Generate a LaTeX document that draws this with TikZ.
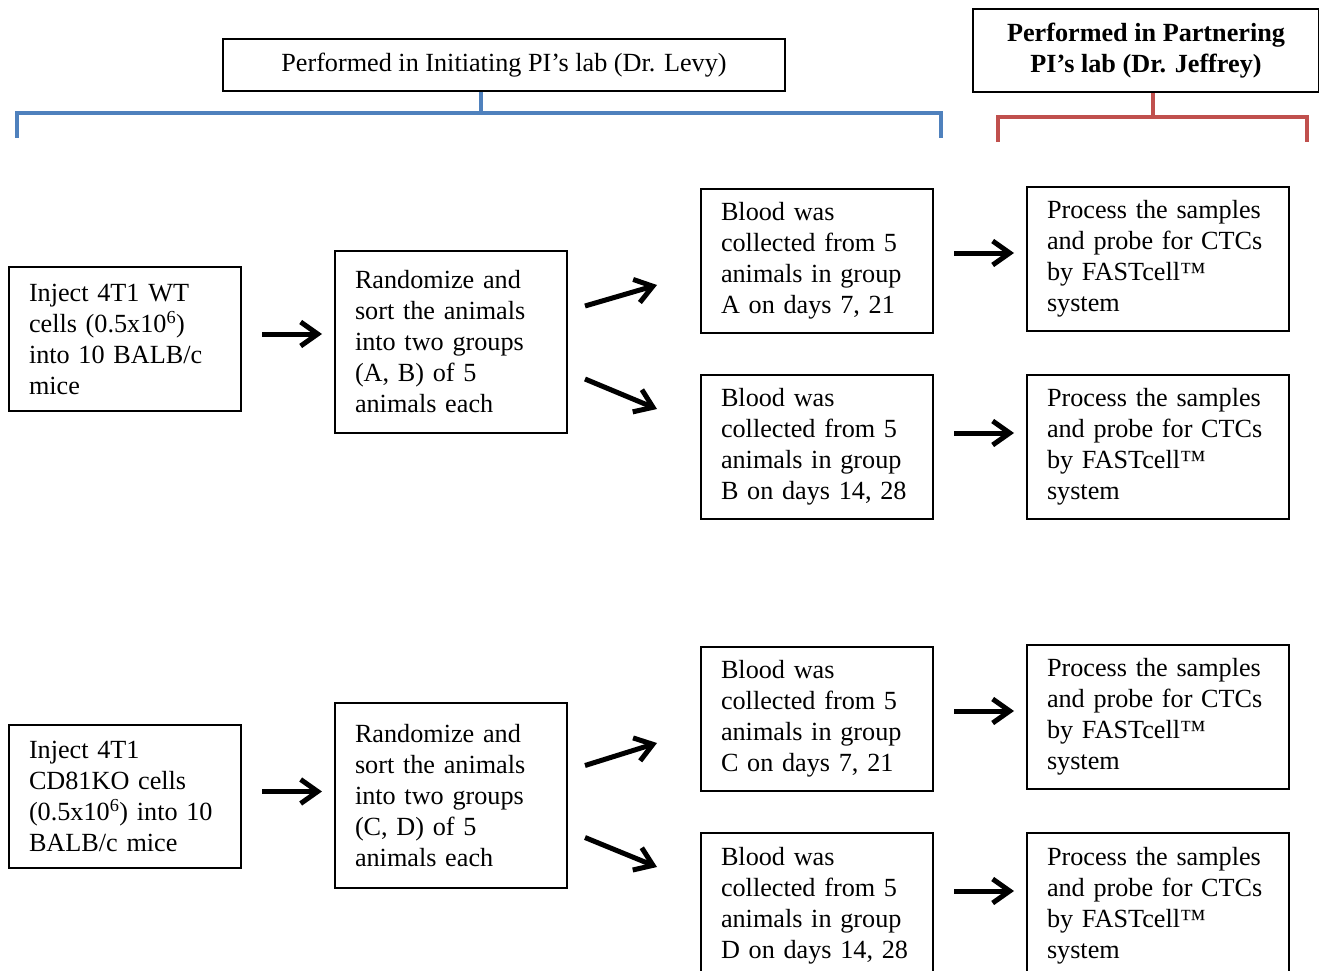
\documentclass[tikz,border=0pt]{standalone}
\usepackage{fontspec}
\setmainfont{Liberation Serif}
\usetikzlibrary{arrows.meta,calc}
\definecolor{bracketblue}{RGB}{79,129,189}
\definecolor{bracketred}{RGB}{192,80,77}
\tikzset{
  txt/.style={font=\fontsize{26.2}{31}\selectfont},
  boxA/.style={txt, draw, line width=2pt, anchor=north west, align=left,
    text width=192pt, inner xsep=20pt, inner ysep=0pt, minimum width=232pt},
  boxB/.style={boxA, text width=222pt, minimum width=262pt},
  arr/.style={line width=5pt, -{Straight Barb[length=17pt,width=24pt,line width=5pt]}},
  bline/.style={draw=bracketblue, line width=4pt},
  rline/.style={draw=bracketred, line width=4pt}
}
\begin{document}
\begin{tikzpicture}[x=1pt,y=-1pt]
\clip (0,0) rectangle (1319,971);
\fill[white] (0,0) rectangle (1319,971);

% header labels
\node[txt, draw, line width=2pt, minimum width=562pt, minimum height=52pt, anchor=north west, inner sep=0pt] (lab1) at (222,38) {Performed in Initiating PI’s lab (Dr. Levy)};
\node[txt, draw, line width=2pt, minimum width=346pt, minimum height=83pt, anchor=north west, inner sep=0pt, align=center, font=\fontsize{26.2}{31}\selectfont\bfseries] (lab2) at (972,8) {Performed in Partnering\\PI’s lab (Dr. Jeffrey)};

% brackets
\coordinate (bstem) at (481,113);
\coordinate (bl) at (17,138);
\coordinate (br) at (941,138);
\draw[bline] (lab1.south -| bstem) -- (bstem);
\draw[bline] (bl) -- (bl |- bstem) -- (br |- bstem) -- (br);
\coordinate (rstem) at (1153,117);
\coordinate (rl) at (998,142);
\coordinate (rr) at (1307,142);
\draw[rline] (lab2.south -| rstem) -- (rstem);
\draw[rline] (rl) -- (rl |- rstem) -- (rr |- rstem) -- (rr);

% top row
\node[boxA, minimum height=144pt] (inj1) at (8,266) {Inject 4T1 WT\\cells (0.5x10\textsuperscript{6})\\into 10 BALB/c\\mice};
\node[boxA, minimum height=182pt] (rnd1) at (334,250) {Randomize and\\sort the animals\\into two groups\\(A, B) of 5\\animals each};
\node[boxA, minimum height=144pt] (bldA) at (700,188) {Blood was\\collected from 5\\animals in group\\A on days 7, 21};
\node[boxB, minimum height=144pt] (prcA) at (1026,186) {Process the samples\\and probe for CTCs\\by FASTcell™\\system};
\node[boxA, minimum height=144pt] (bldB) at (700,374) {Blood was\\collected from 5\\animals in group\\B on days 14, 28};
\node[boxB, minimum height=144pt] (prcB) at (1026,374) {Process the samples\\and probe for CTCs\\by FASTcell™\\system};

% bottom row
\node[boxA, minimum height=143pt] (inj2) at (8,724) {Inject 4T1\\CD81KO cells\\(0.5x10\textsuperscript{6}) into 10\\BALB/c mice};
\node[boxA, minimum height=185pt] (rnd2) at (334,702) {Randomize and\\sort the animals\\into two groups\\(C, D) of 5\\animals each};
\node[boxA, minimum height=144pt] (bldC) at (700,646) {Blood was\\collected from 5\\animals in group\\C on days 7, 21};
\node[boxB, minimum height=144pt] (prcC) at (1026,644) {Process the samples\\and probe for CTCs\\by FASTcell™\\system};
\node[boxA, minimum height=146pt] (bldD) at (700,832) {Blood was\\collected from 5\\animals in group\\D on days 14, 28};
\node[boxB, minimum height=146pt] (prcD) at (1026,832) {Process the samples\\and probe for CTCs\\by FASTcell™\\system};

% arrows top
\draw[arr] ([shift={(20,-5)}]inj1.east) -- ([shift={(-12,-8)}]rnd1.west);
\draw[arr] ([shift={(17,-36)}]rnd1.east) -- ([shift={(-43,24)}]bldA.west);
\draw[arr] ([shift={(17,37)}]rnd1.east) -- ([shift={(-43,-38)}]bldB.west);
\draw[arr] ([shift={(20,-8)}]bldA.east) -- ([shift={(-12,-6)}]prcA.west);
\draw[arr] ([shift={(20,-14)}]bldB.east) -- ([shift={(-12,-14)}]prcB.west);
% arrows bottom
\draw[arr] ([shift={(20,-5)}]inj2.east) -- ([shift={(-12,-4)}]rnd2.west);
\draw[arr] ([shift={(17,-30)}]rnd2.east) -- ([shift={(-43,24)}]bldC.west);
\draw[arr] ([shift={(17,42)}]rnd2.east) -- ([shift={(-43,-39)}]bldD.west);
\draw[arr] ([shift={(20,-8)}]bldC.east) -- ([shift={(-12,-6)}]prcC.west);
\draw[arr] ([shift={(20,-15)}]bldD.east) -- ([shift={(-12,-15)}]prcD.west);
\end{tikzpicture}
\end{document}
